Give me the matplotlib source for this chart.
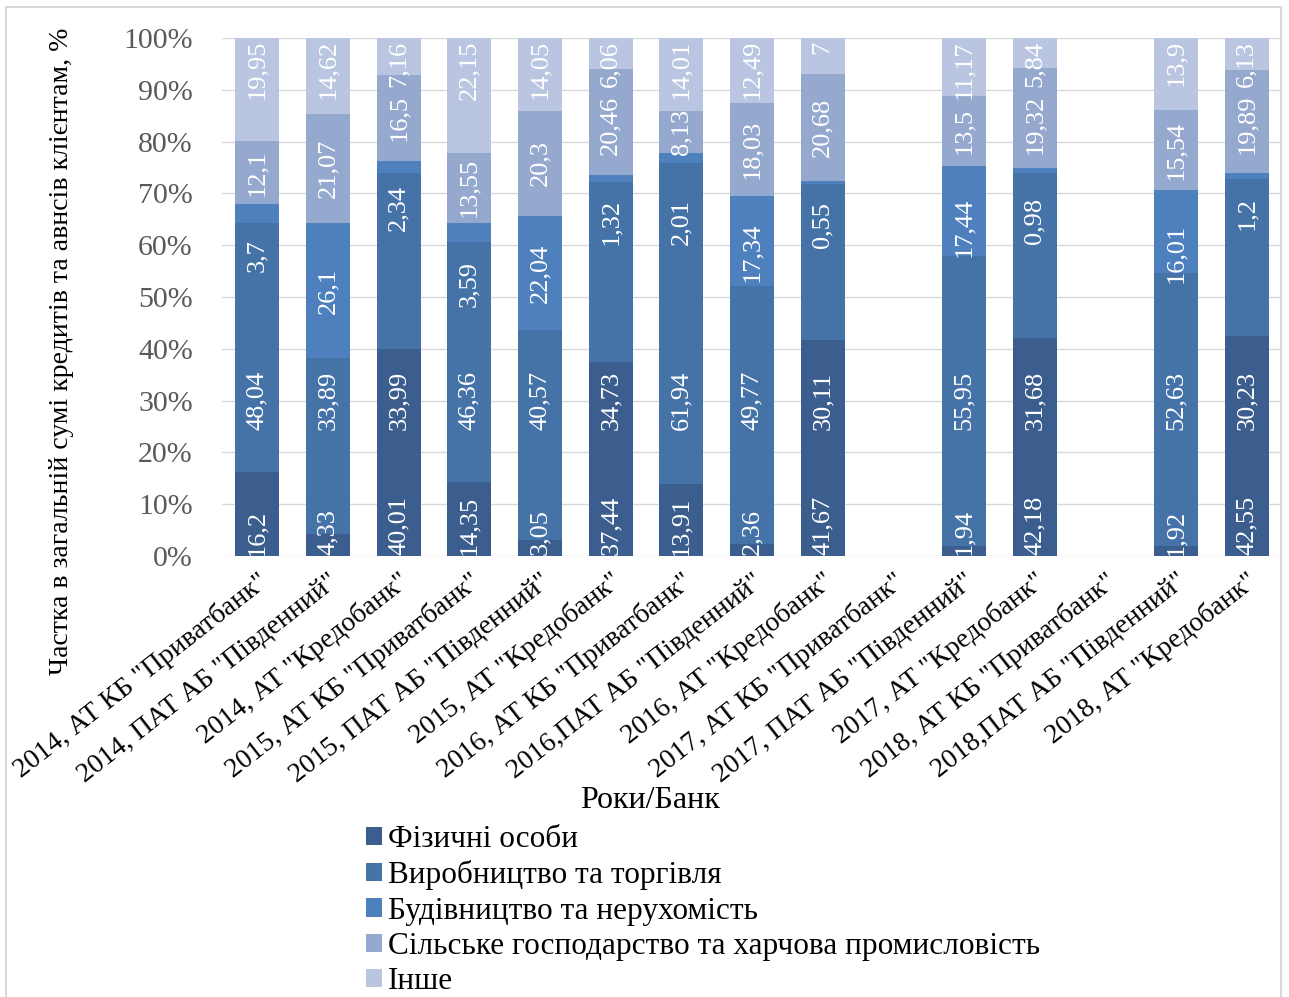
import numpy as np
import matplotlib
matplotlib.use("Agg")
import matplotlib.pyplot as plt
from matplotlib.lines import Line2D
from matplotlib.patches import Patch
from matplotlib.textpath import TextPath
from matplotlib.font_manager import FontProperties
from matplotlib.ticker import FuncFormatter

plt.rcParams["font.family"] = ["Liberation Serif", "DejaVu Serif"]

# categories (year, bank)
categories = [
    '2014, АТ КБ "Приватбанк"', '2014, ПАТ АБ "Південний"', '2014, АТ "Кредобанк"',
    '2015, АТ КБ "Приватбанк"', '2015, ПАТ АБ "Південний"', '2015, АТ "Кредобанк"',
    '2016, АТ КБ "Приватбанк"', '2016,ПАТ АБ "Південний"', '2016, АТ "Кредобанк"',
    '2017, АТ КБ "Приватбанк"', '2017, ПАТ АБ "Південний"', '2017, АТ "Кредобанк"',
    '2018, АТ КБ "Приватбанк"', '2018,ПАТ АБ "Південний"', '2018, АТ "Кредобанк"',
]

nan = np.nan
fizychni = [16.2, 4.33, 40.01, 14.35, 3.05, 37.44, 13.91, 2.36, 41.67, nan, 1.94, 42.18, nan, 1.92, 42.55]
vyrobnytstvo = [48.04, 33.89, 33.99, 46.36, 40.57, 34.73, 61.94, 49.77, 30.11, nan, 55.95, 31.68, nan, 52.63, 30.23]
budivnytstvo = [3.7, 26.1, 2.34, 3.59, 22.04, 1.32, 2.01, 17.34, 0.55, nan, 17.44, 0.98, nan, 16.01, 1.2]
silske = [12.1, 21.07, 16.5, 13.55, 20.3, 20.46, 8.13, 18.03, 20.68, nan, 13.5, 19.32, nan, 15.54, 19.89]
inshe = [19.95, 14.62, 7.16, 22.15, 14.05, 6.06, 14.01, 12.49, 7, nan, 11.17, 5.84, nan, 13.9, 6.13]

series_names = [
    "Фізичні особи",
    "Виробництво та торгівля",
    "Будівництво та нерухомість",
    "Сільське господарство та харчова промисловість",
    "Інше",
]
colors = ["#3b5e8e", "#4573a8", "#4e80bd", "#95a9cf", "#bac6e1"]

W, H = 1289, 997
fig = plt.figure(figsize=(W / 100, H / 100), dpi=100)
ax = fig.add_axes([222 / W, 1 - 556 / H, (1282 - 222) / W, (556 - 38) / H])

raw = np.array([fizychni, vyrobnytstvo, budivnytstvo, silske, inshe], dtype=float)
share = raw / np.nansum(raw, axis=0) * 100  # 100% stacked
x = np.arange(len(categories))
bar_w = 0.62

bottom = np.zeros(len(categories))
for si in range(len(series_names)):
    vals = np.nan_to_num(share[si])
    ax.bar(x, vals, bar_w, bottom=bottom, color=colors[si], linewidth=0, zorder=2)
    bottom += vals

ax.set_xlim(-0.5, len(categories) - 0.5)
ax.set_ylim(0, 100)
ax.set_yticks(np.arange(0, 101, 10))
ax.yaxis.set_major_formatter(FuncFormatter(lambda v, _: f"{v:.0f}%"))
ax.grid(axis="y", color="#d9d9d9", linewidth=1, zorder=0)
ax.set_axisbelow(True)
for s in ax.spines.values():
    s.set_visible(False)
ax.tick_params(axis="y", length=0, pad=21, labelsize=21.5, labelcolor="#595959")
ax.set_xticks(x)
ax.set_xticklabels(categories, rotation=38, ha="right", va="top",
                   rotation_mode="anchor", fontsize=20)
ax.tick_params(axis="x", length=0, pad=9)

# data labels: white, rotated, laid out in rows inside each bar
lab_fs = 19
fp = FontProperties(family="Liberation Serif", size=lab_fs)
px_per_pct = (556 - 38) / 100.0


def text_len_pct(s):
    w_pt = TextPath((0, 0), s, size=lab_fs, prop=fp).get_extents().width
    return w_pt * 100 / 72 / px_per_pct


def fmt(v):
    return f"{v:g}".replace(".", ",")


for i in x:
    if np.isnan(raw[0, i]):
        continue
    sh = share[:, i]
    base = np.concatenate([[0], np.cumsum(sh)[:-1]])
    mid = base + sh / 2
    texts = [fmt(v) for v in raw[:, i]]
    lens = [text_len_pct(t) for t in texts]
    # top label ends at bar top, bottom label starts at bar base
    centers = [0] * 5
    centers[0] = 0.4 + lens[0] / 2
    centers[4] = 99.3 - lens[4] / 2
    centers[3] = min(mid[3], centers[4] - lens[4] / 2 - 2 - lens[3] / 2)
    centers[2] = min(mid[2], centers[3] - lens[3] / 2 - 9 - lens[2] / 2)
    centers[1] = 30
    for si in range(5):
        ax.text(i, centers[si], texts[si], rotation=90, rotation_mode="anchor",
                ha="center", va="center", color="white", fontsize=lab_fs,
                zorder=3, clip_on=True)

fig.text(62 / W, 1 - 351 / H, "Частка в загальній сумі кредитів та авнсів клієнтам, %",
         rotation=90, ha="center", va="center", fontsize=20)
fig.text(650 / W, 1 - 800 / H, "Роки/Банк", ha="center", va="center", fontsize=23)

handles = [Patch(facecolor=c, edgecolor="none") for c in colors]
fig.legend(handles, series_names, loc="upper left",
           bbox_to_anchor=(366 / W, 1 - 825 / H), frameon=False, fontsize=22.5,
           handlelength=0.52, handleheight=0.52, handletextpad=0.18,
           labelspacing=0.2, borderpad=0, borderaxespad=0)

# outer chart frame
for xs, ys in [([6, 6], [997, 7]), ([6, 1281], [7, 7]), ([1281, 1281], [7, 997])]:
    fig.add_artist(Line2D([v / W for v in xs], [1 - v / H for v in ys],
                          color="#d9d9d9", linewidth=1.5))

fig.savefig("out.png", dpi=100)
